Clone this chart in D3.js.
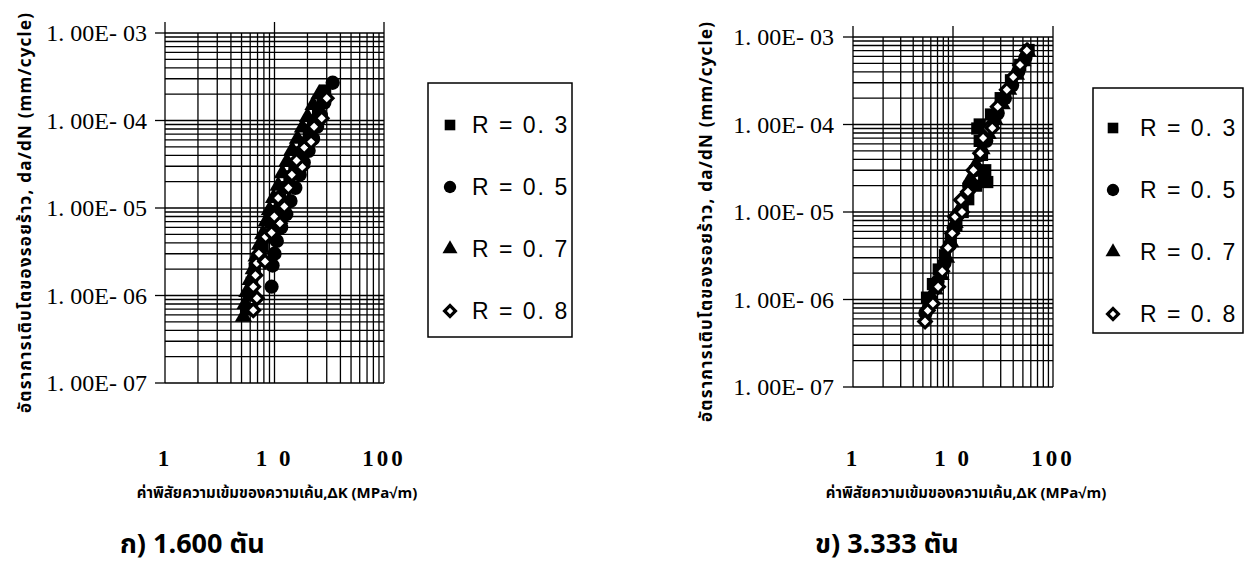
<!DOCTYPE html>
<meta charset="utf-8">
<style>
body { margin: 0; background: #fff; }
svg { display: block; }
.grid line { stroke: #000; stroke-width: 1.3; }
.stub { stroke: #000; stroke-width: 1.3; }
.ylab { font-family: "Liberation Serif", serif; font-size: 24px; }
.xlab { font-family: "Liberation Serif", serif; font-size: 23px; font-weight: bold; letter-spacing: 3px; }
.title { font-family: "Noto Sans Thai", "Noto Sans", sans-serif; font-weight: bold; font-size: 17px; }
.xtitle { font-size: 15px; }
.caption { font-family: "Noto Sans Thai", "Noto Sans", sans-serif; font-weight: bold; font-size: 27px; }
.legend text { font-family: "Liberation Sans", Arial, sans-serif; font-size: 23px; letter-spacing: 2px; }
</style>
<svg width="1249" height="574"></svg>
<script src="https://cdn.jsdelivr.net/npm/d3@7"></script>
<script>

var seriesNames = ["R = 0. 3", "R = 0. 5", "R = 0. 7", "R = 0. 8"];
var yTickValues = [1e-3, 1e-4, 1e-5, 1e-6, 1e-7];
var yTickLabels = ["1. 00E- 03", "1. 00E- 04", "1. 00E- 05", "1. 00E- 06", "1. 00E- 07"];
var xTickValues = [1, 10, 100];
var xTickLabels = ["1", "1 0", "100"];
var yTitle = "อัตราการเติบโตของรอยร้าว, da/dN (mm/cycle)";
var xTitle = "ค่าพิสัยความเข้มของความเค้น,ΔK (MPa√m)";

// panel ก) 1.600 ton : [dK, da/dN]
var leftR03 = [[5.5,7e-7],[5.8,1.0e-6],[6.2,1.4e-6],[6.6,2.0e-6],[7.2,2.7e-6],[7.8,3.6e-6],[8.5,5e-6],[9.3,6.8e-6],[10.2,9.2e-6],[11.2,1.25e-5],[12.4,1.7e-5],[13.7,2.3e-5],[15.2,3.1e-5],[16.8,4.2e-5],[18.6,5.6e-5],[20.6,7.5e-5],[22.8,1.0e-4],[25,1.35e-4],[27.5,1.8e-4],[29,2.2e-4]];
var leftR05 = [[9.4,1.26e-6],[9.6,2.2e-6],[10.0,3.0e-6],[10.5,4.2e-6],[11.5,6e-6],[12.8,8.5e-6],[14.0,1.2e-5],[15.5,1.7e-5],[17.0,2.4e-5],[18.5,3.3e-5],[20.5,4.5e-5],[22.5,6.2e-5],[24.5,8.5e-5],[26.5,1.15e-4],[28.5,1.6e-4],[34,2.7e-4]];
var leftR07 = [[5.2,5.7e-7],[5.4,8e-7],[5.6,1.1e-6],[6.0,1.5e-6],[6.4,2.0e-6],[6.8,2.8e-6],[7.3,3.8e-6],[7.8,5.0e-6],[8.4,7.0e-6],[9.0,9.5e-6],[9.8,1.3e-5],[10.8,1.8e-5],[11.8,2.5e-5],[13.0,3.4e-5],[14.5,4.6e-5],[16.2,6.2e-5],[18.0,8.3e-5],[20.0,1.1e-4],[22.5,1.5e-4],[25.5,2.0e-4]];
var leftR08 = [[6.4,6.8e-7],[6.9,9.3e-7],[6.4,1.26e-6],[6.7,1.7e-6],[6.9,2.35e-6],[8.2,2.45e-6],[7.2,3.0e-6],[8.3,4.7e-6],[9.4,5.2e-6],[11.2,6.7e-6],[9.95,8e-6],[12.3,1.04e-5],[10.8,1.3e-5],[13.4,1.7e-5],[14.4,2.4e-5],[17.9,2.95e-5],[15.9,3.5e-5],[18.7,4.9e-5],[21.6,5.7e-5],[23,8.5e-5],[27,1.06e-4],[30,1.8e-4]];

// panel ข) 3.333 ton
var rightR03 = [[5.5,1.05e-6],[6.3,1.5e-6],[7.2,2.2e-6],[8.3,3.2e-6],[9.5,4.8e-6],[10.8,7e-6],[12.5,1.0e-5],[14.2,1.4e-5],[17,2.0e-5],[20.5,2.3e-5],[22,2.2e-5],[21,3.0e-5],[19.5,4.5e-5],[18.5,6.5e-5],[17.5,9e-5],[18.5,1.0e-4],[24,1.3e-4],[30,2.0e-4],[38,3.2e-4],[47,4.8e-4],[57,7.1e-4]];
var rightR05 = [[5.3,7e-7],[6,1e-6],[7,1.6e-6],[8.2,2.6e-6],[9.3,4.2e-6],[10.2,6.5e-6],[11.3,9.5e-6],[12.8,1.35e-5],[14.5,2.0e-5],[16.5,3.0e-5],[19,4.5e-5],[21.5,6.5e-5],[24.5,9.5e-5],[28,1.35e-4],[33,2.0e-4],[39,2.8e-4],[45,4e-4],[53,5.8e-4]];
var rightR07 = [[5.8,9e-7],[6.6,1.3e-6],[7.6,1.9e-6],[8.6,3e-6],[9.5,4.5e-6],[10.5,7.5e-6],[11.8,1.1e-5],[13.3,1.6e-5],[15,2.4e-5],[17,3.5e-5],[19.5,5.2e-5],[22.5,7.8e-5],[26,1.15e-4],[31,1.7e-4],[36,2.5e-4],[43,3.7e-4],[50,5.3e-4],[56,6.8e-4]];
var rightR08 = [[5.25,5.6e-7],[5.6,7.5e-7],[6.3,9e-7],[7.1,1.4e-6],[7.8,2.1e-6],[8.9,3.9e-6],[9.8,5.7e-6],[10.5,8.8e-6],[12.3,1e-5],[12.0,1.37e-5],[14.1,1.7e-5],[16,3e-5],[18.7,4.7e-5],[20,7e-5],[22.4,9e-5],[24.7,9.1e-5],[28,1.6e-4],[34.5,2.5e-4],[40,3.5e-4],[46.8,4.8e-4],[54.7,7e-4]];

var panels = [
  { series: [leftR03, leftR05, leftR07, leftR08], left: 165, right: 384, top: 33, bottom: 383,
    labelX: 147, yTitleX: 31, yTitleY: 213, xTitleX: 277,
    legend: { x: 428, y: 83, w: 144, h: 254, mx: 450, tx: 472, ry: 125 },
    caption: "ก) 1.600 ตัน", capX: 120 },
  { series: [rightR03, rightR05, rightR07, rightR08], left: 853, right: 1053, top: 37, bottom: 387,
    labelX: 834, yTitleX: 712, yTitleY: 222, xTitleX: 966,
    legend: { x: 1093, y: 88, w: 150, h: 245, mx: 1113, tx: 1140, ry: 128 },
    caption: "ข) 3.333 ตัน", capX: 815 }
];

var symbols = [d3.symbolSquare, d3.symbolCircle, d3.symbolTriangle, d3.symbolSquare];
var sizes = [150, 160, 130, 78];

function marker(sel, i, k) {
  k = k || 1;
  sel.attr("d", d3.symbol(symbols[i], sizes[i] * k))
     .attr("fill", i == 3 ? "#fff" : "#000")
     .attr("stroke", "#000")
     .attr("stroke-width", i == 3 ? 3.2 : 0);
}

var svg = d3.select("svg");
svg.append("rect").attr("width", 1249).attr("height", 574).attr("fill", "#fff");

panels.forEach(function(p) {
  var x = d3.scaleLog().domain([1, 100]).range([p.left, p.right]);
  var y = d3.scaleLog().domain([1e-7, 1e-3]).range([p.bottom, p.top]);
  var g = svg.append("g");

  var grid = g.append("g").attr("class", "grid");
  grid.selectAll(".v").data(x.ticks()).enter().append("line")
      .attr("x1", function(d) { return x(d); }).attr("x2", function(d) { return x(d); })
      .attr("y1", p.top).attr("y2", p.bottom);
  grid.selectAll(".h").data(y.ticks()).enter().append("line")
      .attr("y1", function(d) { return y(d); }).attr("y2", function(d) { return y(d); })
      .attr("x1", p.left).attr("x2", p.right);

  // tick stubs outside the frame
  g.selectAll(".vs").data(xTickValues).enter().append("line").attr("class", "stub")
      .attr("x1", function(d) { return x(d); }).attr("x2", function(d) { return x(d); })
      .attr("y1", p.top - 11).attr("y2", p.top);
  g.selectAll(".hs").data(yTickValues).enter().append("line").attr("class", "stub")
      .attr("y1", function(d) { return y(d); }).attr("y2", function(d) { return y(d); })
      .attr("x1", p.left - 10).attr("x2", p.left);

  g.selectAll(".ylab").data(yTickValues).enter().append("text").attr("class", "ylab")
      .attr("x", p.labelX).attr("y", function(d) { return y(d); })
      .attr("dy", "0.35em").attr("text-anchor", "end")
      .text(function(d, i) { return yTickLabels[i]; });
  g.selectAll(".xlab").data(xTickValues).enter().append("text").attr("class", "xlab")
      .attr("x", function(d) { return x(d); }).attr("y", 466)
      .attr("text-anchor", "middle")
      .text(function(d, i) { return xTickLabels[i]; });

  // data, later series drawn on top
  p.series.forEach(function(s, i) {
    g.append("g").selectAll("path").data(s).enter().append("path")
        .attr("transform", function(d) {
          return "translate(" + x(d[0]) + "," + y(d[1]) + ")" + (i == 3 ? " rotate(45)" : "");
        })
        .call(marker, i);
  });

  var L = p.legend;
  var lg = g.append("g").attr("class", "legend");
  lg.append("rect").attr("x", L.x).attr("y", L.y).attr("width", L.w).attr("height", L.h)
      .attr("fill", "#fff").attr("stroke", "#000").attr("stroke-width", 1.5);
  seriesNames.forEach(function(name, i) {
    var yy = L.ry + i * 62;
    lg.append("path")
        .attr("transform", "translate(" + L.mx + "," + yy + ")" + (i == 3 ? " rotate(45)" : ""))
        .call(marker, i, 0.75);
    lg.append("text").attr("x", L.tx).attr("y", yy).attr("dy", "0.36em").text(name);
  });

  g.append("text").attr("class", "title")
      .attr("transform", "translate(" + p.yTitleX + "," + p.yTitleY + ") rotate(-90)")
      .attr("text-anchor", "middle")
      .attr("textLength", 400).attr("lengthAdjust", "spacing")
      .text(yTitle);
  g.append("text").attr("class", "title xtitle")
      .attr("x", p.xTitleX).attr("y", 498).attr("text-anchor", "middle").text(xTitle);
  g.append("text").attr("class", "caption")
      .attr("x", p.capX).attr("y", 553).text(p.caption);
});

</script>
